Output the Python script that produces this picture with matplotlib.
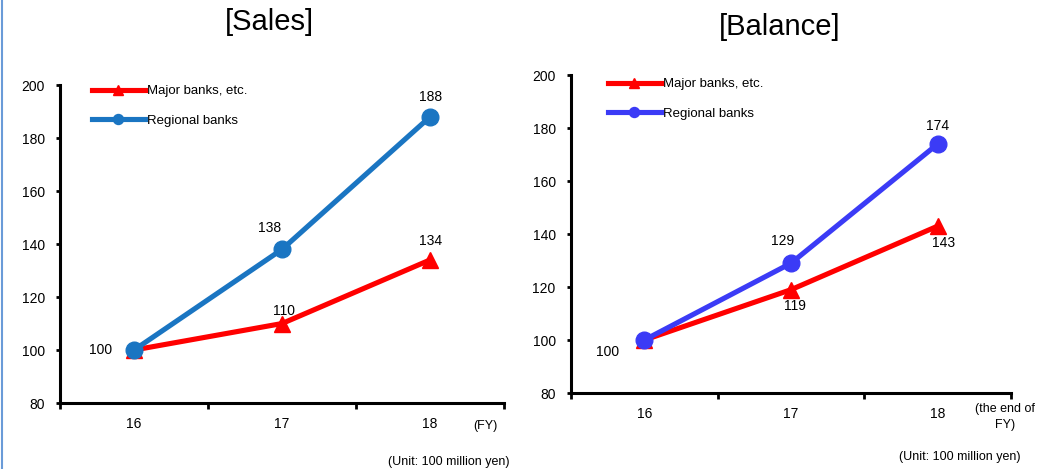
import matplotlib.pyplot as plt
from matplotlib.lines import Line2D

plt.rcParams['font.family'] = ['Liberation Sans', 'DejaVu Sans']

# data
years = ['16', '17', '18']
sales_major = [100, 110, 134]
sales_regional = [100, 138, 188]
bal_major = [100, 119, 143]
bal_regional = [100, 129, 174]

RED = '#ff0000'
BLUE_SALES = '#1a75c2'
BLUE_BAL = '#3b3bf6'

fig = plt.figure(figsize=(10.48, 4.69), dpi=100)

# thin slide border on the left
fig.add_artist(Line2D([0.0015, 0.0015], [0, 1], color='#6a9bd8', lw=1.5,
                      transform=fig.transFigure))


def setup_axes(ax):
    x = range(len(years))
    ax.set_xlim(-0.5, 2.5)
    ax.set_ylim(80, 200)
    ax.set_yticks(range(80, 201, 20))
    ax.set_xticks(list(x))
    ax.set_xticklabels(years)
    ax.set_xticks([-0.5, 0.5, 1.5, 2.5], minor=True)
    for s in ['top', 'right']:
        ax.spines[s].set_visible(False)
    for s in ['left', 'bottom']:
        ax.spines[s].set_linewidth(2.2)
    ax.tick_params(axis='y', length=3, width=2, pad=8, labelsize=10)
    ax.tick_params(axis='x', which='major', length=0, pad=10, labelsize=10)
    ax.tick_params(axis='x', which='minor', length=4, width=2)


def label(ax, xi, val, dx, dy):
    ax.annotate(str(val), (xi, val), xytext=(dx, dy), textcoords='offset pixels',
                ha='center', va='center', fontsize=10)


# ---- Sales ----
ax1 = fig.add_axes([0.0573, 0.1407, 0.4237, 0.678])
x = list(range(len(years)))
ax1.plot(x, sales_major, color=RED, lw=3.7, marker='^', ms=12, label='Major banks, etc.')
ax1.plot(x, sales_regional, color=BLUE_SALES, lw=3.7, marker='o', ms=12, label='Regional banks')
setup_axes(ax1)
ax1.legend(loc='upper left', bbox_to_anchor=(0.072, 1.0), frameon=False, fontsize=9.5,
           handlelength=4.0, handletextpad=0.15, labelspacing=1.3, borderpad=0,
           borderaxespad=0, markerscale=0.6)
label(ax1, 0, sales_major[0], -33, 0)
label(ax1, 1, sales_major[1], 2, 13)
label(ax1, 2, sales_major[2], 0, 19)
label(ax1, 1, sales_regional[1], -13, 21)
label(ax1, 2, sales_regional[2], 0, 20)
fig.text(0.2567, 1 - 22 / 469, '[Sales]', ha='center', va='center', fontsize=21)
fig.text(485 / 1048, 1 - 426 / 469, '(FY)', ha='center', va='center', fontsize=9)
fig.text(449 / 1048, 1 - 462 / 469, '(Unit: 100 million yen)', ha='center', va='center', fontsize=9)

# ---- Balance ----
ax2 = fig.add_axes([0.5448, 0.162, 0.42, 0.678])
ax2.plot(x, bal_major, color=RED, lw=3.7, marker='^', ms=12, label='Major banks, etc.')
ax2.plot(x, bal_regional, color=BLUE_BAL, lw=3.7, marker='o', ms=12, label='Regional banks')
setup_axes(ax2)
ax2.legend(loc='upper left', bbox_to_anchor=(0.084, 0.99), frameon=False, fontsize=9.5,
           handlelength=4.0, handletextpad=0.15, labelspacing=1.3, borderpad=0,
           borderaxespad=0, markerscale=0.6)
label(ax2, 0, bal_major[0], -37, -12)
label(ax2, 1, bal_major[1], 4, -16)
label(ax2, 2, bal_major[2], 6, -17)
label(ax2, 1, bal_regional[1], -8, 22)
label(ax2, 2, bal_regional[2], 0, 18)
fig.text(780 / 1048, 1 - 27 / 469, '[Balance]', ha='center', va='center', fontsize=21)
fig.text(1005 / 1048, 1 - 417 / 469, '(the end of\nFY)', ha='center', va='center',
         fontsize=9, linespacing=1.35)
fig.text(960 / 1048, 1 - 457 / 469, '(Unit: 100 million yen)', ha='center', va='center', fontsize=9)

fig.savefig('out.png', dpi=100)
